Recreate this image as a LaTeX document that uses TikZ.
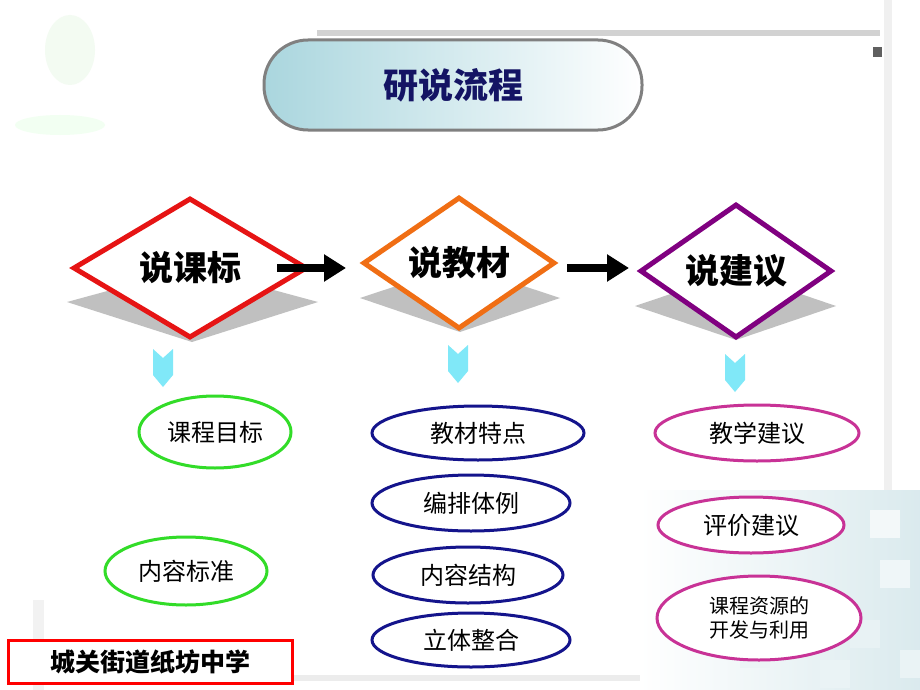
\documentclass[tikz,border=0pt]{standalone}
\usepackage{fontspec}
\setmainfont{Noto Sans CJK SC}
\usetikzlibrary{shapes.geometric,arrows.meta}
\definecolor{dred}{RGB}{230,20,20}
\definecolor{dorange}{RGB}{240,110,20}
\definecolor{dpurple}{RGB}{128,0,128}
\definecolor{egreen}{RGB}{50,220,40}
\definecolor{enavy}{RGB}{20,20,140}
\definecolor{emagenta}{RGB}{200,50,150}
\definecolor{chevcyan}{RGB}{128,232,248}
\definecolor{titlenavy}{RGB}{20,20,100}
\definecolor{titlegray}{RGB}{128,128,128}
\definecolor{titleteal}{RGB}{170,214,222}
\definecolor{shadowgray}{RGB}{192,192,192}
\definecolor{bgteal}{RGB}{150,195,205}
\begin{document}
\begin{tikzpicture}[x=1pt,y=-1pt,
  dia/.style={diamond, draw, fill=white, line width=5pt, inner sep=0pt, font=\bfseries\fontsize{34}{40}\selectfont},
  ell/.style={ellipse, draw, fill=white, line width=3pt, inner sep=0pt, align=center, font=\fontsize{24}{28}\selectfont},
  shadowd/.style={fill=shadowgray, draw=none},
  bigarrow/.style={-{Triangle[length=22pt,width=26pt]}, line width=8pt, black},
  chev/.style={fill=chevcyan, draw=none}]
\useasboundingbox (0,0) rectangle (920,690);
\fill[white] (0,0) rectangle (920,690);
% faint background decorations
\fill[yellow!7!green!5] (70,50) ellipse (25 and 35);
\fill[green!5] (60,125) ellipse (45 and 10);
\fill[gray!35] (317,30) rectangle (880,36);
\fill[gray!12] (884,0) rectangle (892,490);
\fill[gray!75!black] (873,47) rectangle (882,57);
\fill[gray!15] (290,675) rectangle (660,681);
\fill[gray!10] (33,600) rectangle (44,690);
\shade[left color=white, right color=bgteal!35] (640,490) rectangle (920,690);
\foreach \x/\y/\o in {700/600/12,740/640/18,800/590/15,850/620/22,880/560/15,820/660/20,760/520/10,870/510/12,900/650/20}
  \fill[bgteal!\o!white] (\x,\y) rectangle (\x+30,\y+28);
% title
\node (title) at (453,85) [draw=titlegray, line width=3pt, rounded corners=44pt,
  minimum width=378pt, minimum height=90pt, left color=titleteal, right color=white,
  font=\bfseries\fontsize{35}{40}\selectfont, text=titlenavy] {研说流程};
% shadows
\path[shadowd] (67,302) -- (192,268) -- (318,302) -- (192,342) -- cycle;
\path[shadowd] (360,298) -- (460,265) -- (560,298) -- (460,332) -- cycle;
\path[shadowd] (635,306) -- (736,272) -- (836,306) -- (736,340) -- cycle;
% diamonds
\node[dia, draw=dred, aspect=1.67, minimum width=234pt, minimum height=140pt] (d1) at (190,268) {说课标};
\node[dia, draw=dorange, aspect=1.45, minimum width=192pt, minimum height=132pt] (d2) at (459,263) {说教材};
\node[dia, draw=dpurple, aspect=1.43, minimum width=192pt, minimum height=134pt] (d3) at (736,271) {说建议};
% arrows
\coordinate (a1s) at (277,268);
\coordinate (a1e) at (346,268);
\coordinate (a2s) at (567,268);
\coordinate (a2e) at (629,268);
\draw[bigarrow] (a1s) -- (a1e);
\draw[bigarrow] (a2s) -- (a2e);
% chevrons
\foreach \cx/\cy in {163/349, 458/345, 735/354}
  \path[chev] (\cx-10,\cy) -- (\cx,\cy+9) -- (\cx+10,\cy) -- (\cx+10,\cy+26) -- (\cx,\cy+38) -- (\cx-10,\cy+26) -- cycle;
% ellipses
\node[ell, draw=egreen, minimum width=152pt, minimum height=72pt] (g1) at (215,432) {课程目标};
\node[ell, draw=egreen, minimum width=162pt, minimum height=68pt] (g2) at (186,571) {内容标准};
\node[ell, draw=enavy, minimum width=212pt, minimum height=54pt] (b1) at (478,433) {教材特点};
\node[ell, draw=enavy, minimum width=198pt, minimum height=56pt] (b2) at (471,503) {编排体例};
\node[ell, draw=enavy, minimum width=190pt, minimum height=56pt] (b3) at (468,575) {内容结构};
\node[ell, draw=enavy, minimum width=198pt, minimum height=54pt] (b4) at (471,640) {立体整合};
\node[ell, draw=emagenta, minimum width=204pt, minimum height=56pt] (m1) at (757,433) {教学建议};
\node[ell, draw=emagenta, minimum width=186pt, minimum height=56pt] (m2) at (751,525) {评价建议};
\node[ell, draw=emagenta, minimum width=204pt, minimum height=84pt, font=\fontsize{20}{24}\selectfont] (m3) at (759,618) {课程资源的\\开发与利用};
% school box
\node (school) at (150,662) [draw=red, line width=3pt, fill=white, minimum width=284pt, minimum height=43pt,
  font=\bfseries\fontsize{25}{30}\selectfont] {城关街道纸坊中学};
\end{tikzpicture}
\end{document}
